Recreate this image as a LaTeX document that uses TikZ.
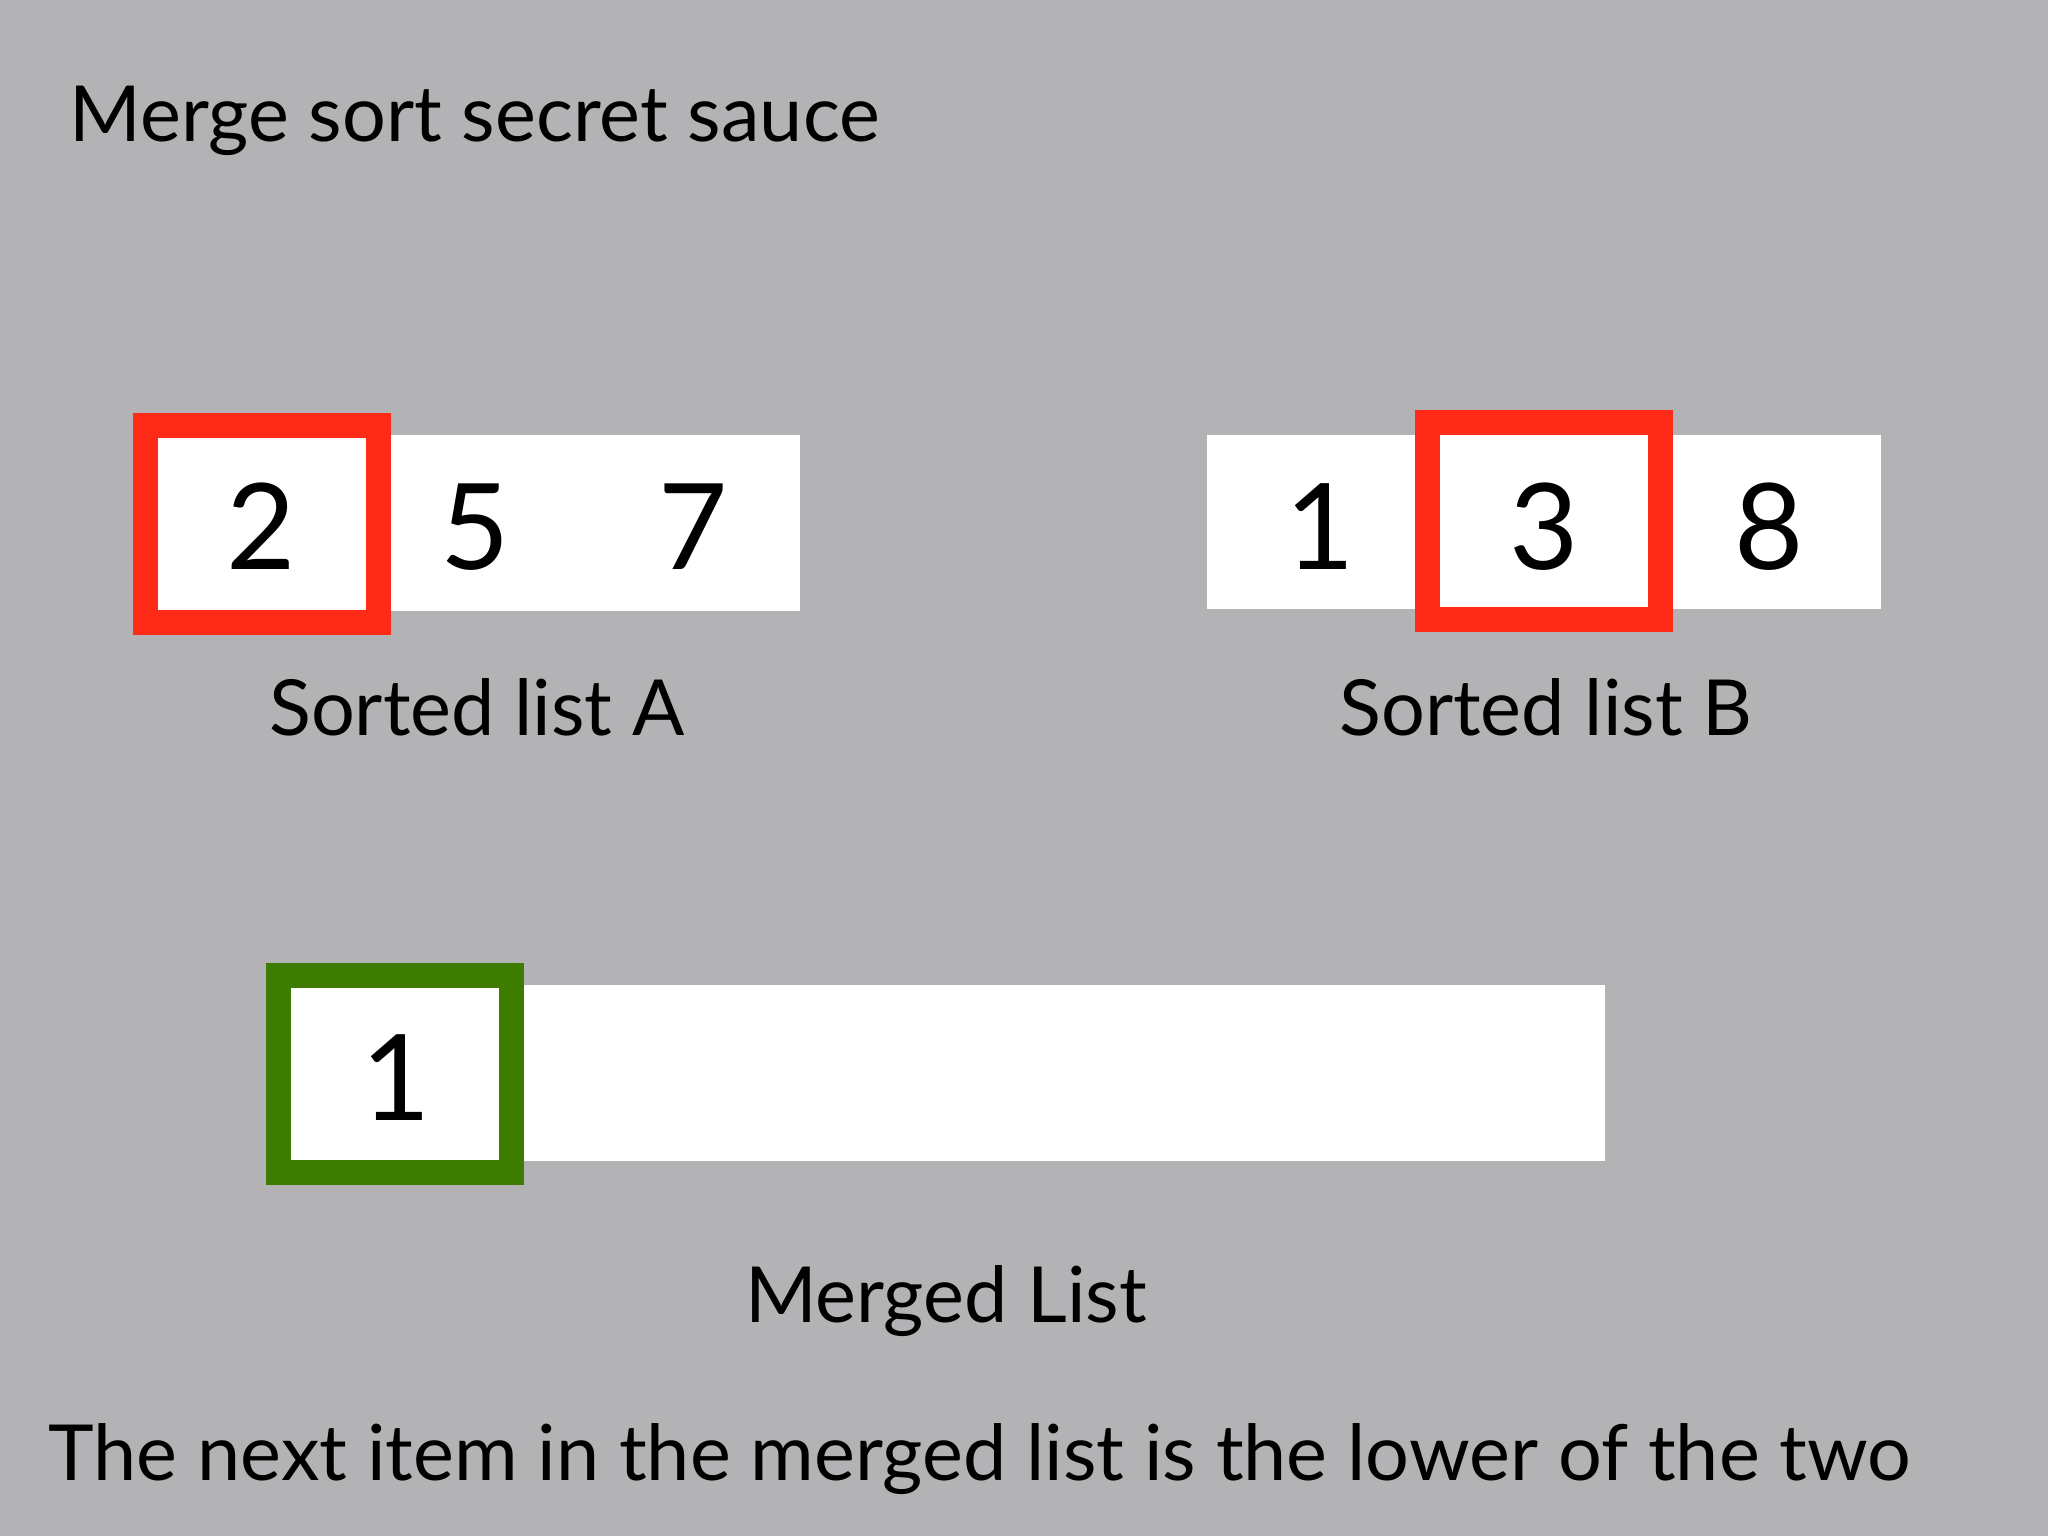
\documentclass[tikz,border=0pt]{standalone}
\usepackage{fontspec}
\setmainfont{Lato}
\usepackage{tikz}
\usetikzlibrary{positioning}
\definecolor{slidecolor}{RGB}{179, 178, 180}
\definecolor{pickcolor}{RGB}{255, 42, 24}
\definecolor{donecolor}{RGB}{62, 124, 0}

\begin{document}
\begin{tikzpicture}[
    x=0.01cm, y=-0.01cm,
    strip/.style={fill=white, inner sep=0pt, minimum height=1.76cm},
    digit/.style={anchor=base, inner sep=0pt, font=\fontsize{34pt}{40pt}\selectfont},
    frame/.style={draw, line width=0.25cm, inner sep=0pt, minimum width=2.33cm, minimum height=1.97cm},
    caption/.style={anchor=base, inner sep=0pt, font=\fontsize{22pt}{26pt}\selectfont},
    heading/.style={anchor=base west, inner sep=0pt, font=\fontsize{22pt}{26pt}\selectfont}
]
    % Slide
    \fill[slidecolor] (0, 0) rectangle (2048, 1536);
    \useasboundingbox (0, 0) rectangle (2048, 1536);

    \node[heading] (title) at (69, 141) {Merge sort secret sauce};

    % Sorted list A
    \node[strip, minimum width=6.48cm] (listA) at (476, 523) {};
    \node[digit] (a1) at (261, 569) {2};
    \node[digit] (a2) at (475, 569) {5};
    \node[digit] (a3) at (693, 569) {7};
    \node[frame, draw=pickcolor] (pickA) at (262, 524) {};
    \node[caption] (capA) at (477, 735) {Sorted list A};

    % Sorted list B
    \node[strip, minimum width=6.73cm, minimum height=1.74cm] (listB) at (1544, 522) {};
    \node[digit] (b1) at (1320, 569) {1};
    \node[digit] (b2) at (1544, 569) {3};
    \node[digit] (b3) at (1769, 569) {8};
    \node[frame, draw=pickcolor] (pickB) at (1544, 521) {};
    \node[caption] (capB) at (1546, 735) {Sorted list B};

    % Merged list
    \node[strip, minimum width=13.22cm] (merged) at (944, 1073) {};
    \node[digit] (m1) at (396, 1120) {1};
    \node[frame, draw=donecolor] (doneM) at (395, 1074) {};
    \node[caption] (capM) at (946, 1322) {Merged List};

    \node[heading] (rule) at (48, 1480) {The next item in the merged list is the lower of the two};
\end{tikzpicture}
\end{document}
